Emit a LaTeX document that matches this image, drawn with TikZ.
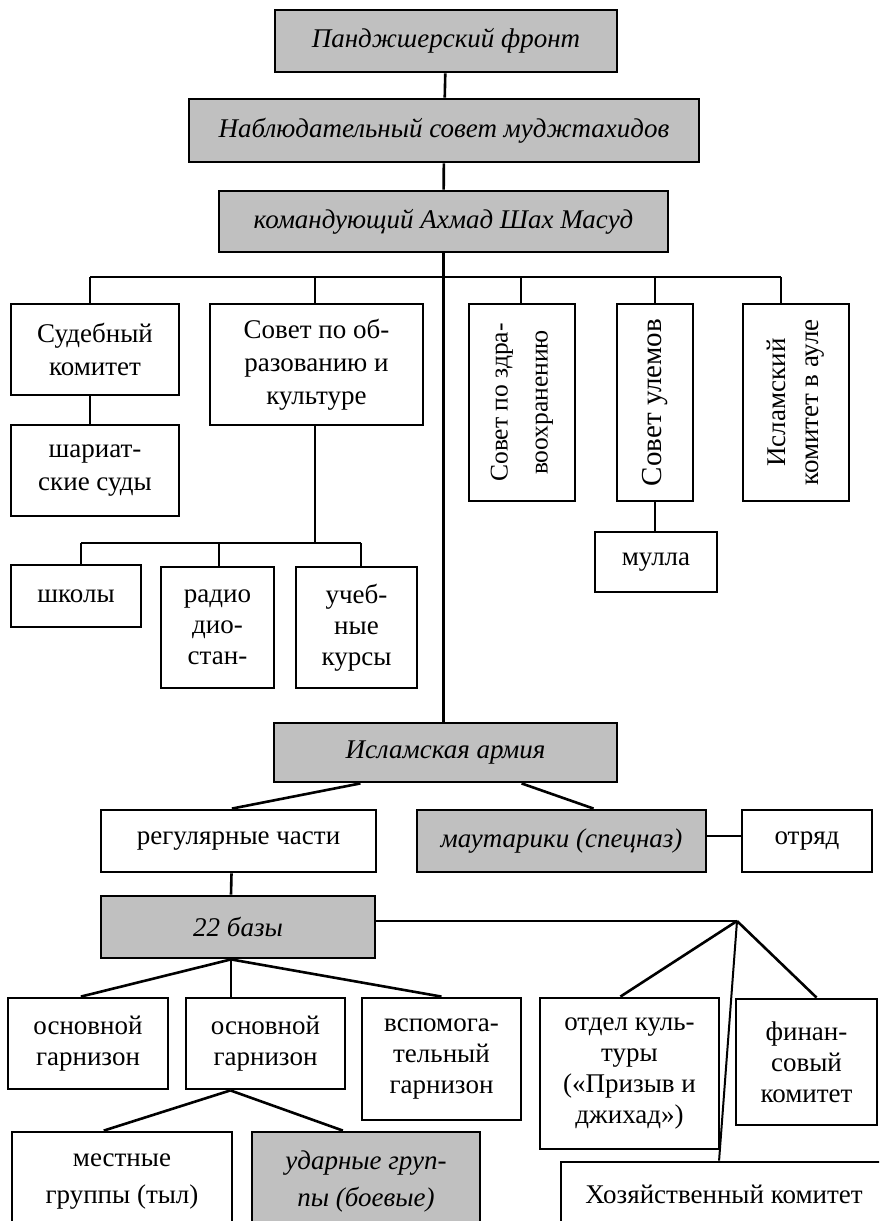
\documentclass[tikz,border=0pt]{standalone}
\usepackage{fontspec}
\setmainfont{Liberation Serif}
\usepackage{tikz}
\usetikzlibrary{calc}

\definecolor{boxgray}{HTML}{C0C0C0}
\newcommand{\chartfont}{\fontsize{27}{33}\selectfont}

\tikzset{
    box/.style={draw, line width=2.8pt, align=center, inner sep=0pt, font=\chartfont},
    graybox/.style={box, fill=boxgray, font=\chartfont\itshape},
    tight/.style={font=\fontsize{27}{31}\selectfont},
    loose/.style={font=\fontsize{27}{37}\selectfont},
    link/.style={line width=2.6pt},
    trunk/.style={line width=3pt},
    thinlink/.style={line width=1.3pt}
}

\begin{document}
\begin{tikzpicture}[x=1pt, y=-1pt]

\useasboundingbox (0,0) rectangle (879,1221);
\clip (0,0) rectangle (879,1221);

% Top of the chain
\node[graybox, minimum width=342pt, minimum height=62pt] (front) at (446,41) {Панджшерский фронт};
\node[graybox, minimum width=510pt, minimum height=63pt] (council) at (444,130.5) {Наблюдательный совет муджтахидов};
\node[graybox, minimum width=449pt, minimum height=61pt] (cmd) at (443.5,221.5) {командующий Ахмад Шах Масуд};

\draw[link] (front) -- (council);
\draw[link] (council) -- (cmd);

% Councils under the commander
\node[box, minimum width=168pt, minimum height=91pt] (court) at (95,349.5) {Судебный\\комитет};
\node[box, minimum width=168pt, minimum height=91pt] (sharia) at (95,470.5) {шариат-\\ские суды};
\node[box, minimum width=213pt, minimum height=121pt] (edu) at (316.5,364.5) {Совет по об-\\разованию и\\культуре};
\node[box, rotate=90, minimum width=197pt, minimum height=106pt, font=\fontsize{25.5}{40}\selectfont] (health) at (522,402.5) {Совет по здра-\\воохранению};
\node[box, rotate=90, minimum width=197pt, minimum height=76pt, font=\fontsize{29}{33}\selectfont] (ulema) at (655,402.5) {Совет улемов};
\node[box, rotate=90, minimum width=197pt, minimum height=106pt] (islkom) at (796,402.5) {Исламский\\комитет в ауле};
\node[box, minimum width=122pt, minimum height=60pt] (mulla) at (656,562) {мулла};

% Bus
\coordinate (b1) at (90,277);
\coordinate (b2) at (315,277);
\coordinate (b3) at (521,277);
\coordinate (b4) at (655,277);
\coordinate (b5) at (781,277);
\draw[link] (b1) -- (b5);
\draw[link] (b1) -- (b1 |- court.north);
\draw[link] (b2) -- (b2 |- edu.north);
\draw[link] (b3) -- (b3 |- health.east);
\draw[link] (b4) -- (b4 |- ulema.east);
\draw[link] (b5) -- (b5 |- islkom.east);
\draw[thinlink] (b1 |- court.south) -- (b1 |- sharia.north);
\draw[thinlink] (ulema.west) -- (ulema.west |- mulla.north);

% Education
\node[box, minimum width=130pt, minimum height=62pt] (schools) at (76,596) {школы};
\node[box, tight, minimum width=113pt, minimum height=121pt] (radio) at (217.5,627.5) {радио\\дио-\\стан-};
\node[box, tight, minimum width=121pt, minimum height=121pt] (courses) at (356.5,627.5) {учеб-\\ные\\курсы};

\coordinate (s1) at (81,543);
\coordinate (s2) at (219,543);
\coordinate (s3) at (361,543);
\draw[link] (s1) -- (s3);
\draw[link] (b2 |- edu.south) -- (b2 |- s1);
\draw[link] (s1) -- (s1 |- schools.north);
\draw[link] (s2) -- (s2 |- radio.north);
\draw[link] (s3) -- (s3 |- courses.north);

% Army
\node[graybox, minimum width=343pt, minimum height=59pt] (army) at (445.5,752.5) {Исламская армия};
\draw[trunk] (cmd.south) -- (cmd.south |- army.north);

\node[box, minimum width=275pt, minimum height=62pt] (regular) at (238.5,841) {регулярные части};
\node[graybox, minimum width=289pt, minimum height=62pt] (maut) at (561.5,841) {маутарики (спецназ)};
\node[box, minimum width=130pt, minimum height=62pt] (detach) at (807,841) {отряд};

\draw[link] ($(army.south west)!0.254!(army.south east)$) -- ($(regular.north west)!0.476!(regular.north east)$);
\draw[link] ($(army.south west)!0.72!(army.south east)$) -- ($(maut.north west)!0.61!(maut.north east)$);
\draw[link] ($(maut.east)+(0,-5)$) -- ($(detach.west)+(0,-5)$);

\node[graybox, minimum width=274pt, minimum height=62pt] (bases) at (238,927) {22 базы};
\draw[link] ($(regular.south)+(-7,0)$) -- ($(bases.north)+(-7,0)$);

% Garrisons
\node[box, tight, minimum width=160pt, minimum height=91pt] (garr1) at (88,1043.5) {основной\\гарнизон};
\node[box, tight, minimum width=159pt, minimum height=91pt] (garr2) at (265.5,1043.5) {основной\\гарнизон};
\node[box, tight, minimum width=159pt, minimum height=122pt] (aux) at (441.5,1059) {вспомога-\\тельный\\гарнизон};

\coordinate (bfan) at ($(bases.south)+(-7,0)$);
\draw[link] (bfan) -- ($(garr1.north west)!0.456!(garr1.north east)$);
\draw[thinlink] (bfan) -- (bfan |- garr2.north);
\draw[link] (bfan) -- (aux.north);

\node[box, loose, minimum width=220pt, minimum height=99pt] (local) at (122,1181.5) {местные\\группы (тыл)};
\node[graybox, font=\fontsize{27}{37}\selectfont\itshape, minimum width=228pt, minimum height=99pt] (strike) at (366,1181.5) {ударные груп-\\пы (боевые)};

\coordinate (gfan) at ($(garr2.south west)!0.283!(garr2.south east)$);
\draw[link] (gfan) -- ($(local.north west)!0.418!(local.north east)$);
\draw[link] (gfan) -- ($(strike.north west)!0.40!(strike.north east)$);

% Committees of the bases
\node[box, tight, minimum width=179pt, minimum height=151pt] (culture) at (629.5,1073.5) {отдел куль-\\туры\\(«Призыв и\\джихад»)};
\node[box, tight, minimum width=141pt, minimum height=126pt] (finance) at (806.5,1062) {финан-\\совый\\комитет};
\node[box, minimum width=326pt, minimum height=64pt] (econ) at (724,1194) {Хозяйственный комитет};

\coordinate (apex) at (737,921);
\draw[link] (bases.east |- apex) -- (apex);
\draw[link] (apex) -- ($(culture.north west)!0.45!(culture.north east)$);
\draw[link] (apex) -- ($(finance.north west)!0.57!(finance.north east)$);
\draw[line width=2pt] (apex) -- ($(econ.north west)!0.485!(econ.north east)$);

\end{tikzpicture}
\end{document}
